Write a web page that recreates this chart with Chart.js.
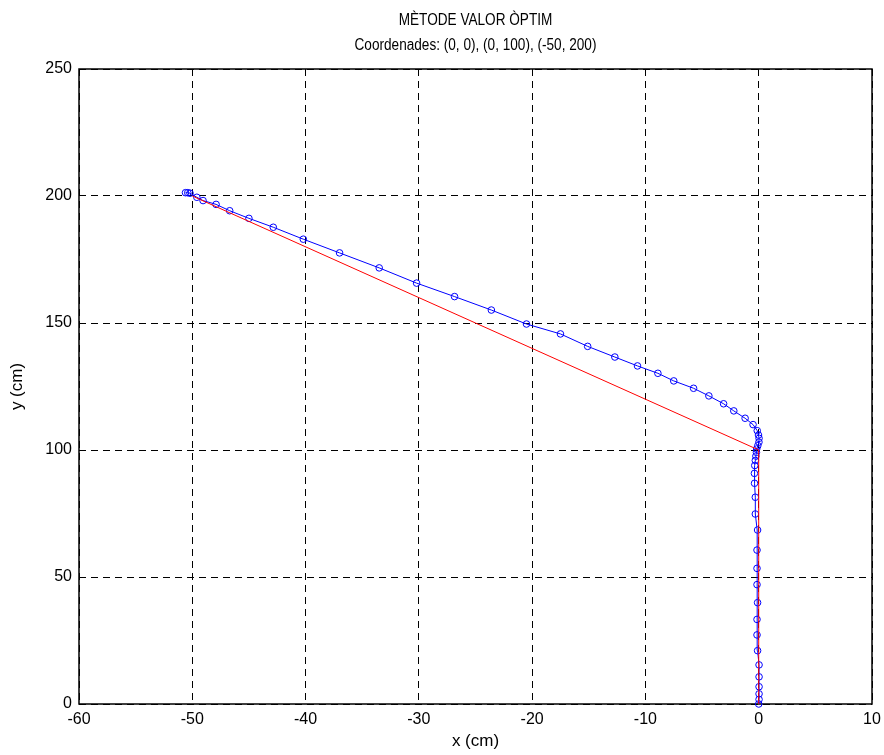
<!DOCTYPE html>
<html>
<head>
<meta charset="utf-8">
<title>Mètode valor òptim</title>
<script src="https://cdn.jsdelivr.net/npm/chart.js@4.4.1/dist/chart.umd.min.js"></script>
<style>
  html, body { margin: 0; padding: 0; background: #fff; }
  canvas { display: block; }
</style>
</head>
<body>
<canvas id="trajChart" width="884" height="755"></canvas>
<script>
// --- DADES ---
const titleLines = ['MÈTODE VALOR ÒPTIM', 'Coordenades: (0, 0), (0, 100), (-50, 200)'];
const xLabel = 'x (cm)';
const yLabel = 'y (cm)';

// trajectòria de referència (punts de pas)
const refX = [0, 0, -50];
const refY = [0, 100, 200];

// trajectòria obtinguda (mostres)
const pathX = [0, 0.03, 0.03, 0.03, 0.03, 0.03, -0.1, -0.15, -0.15, -0.1, -0.15, -0.15, -0.15, -0.1,
  -0.3, -0.3, -0.37, -0.38, -0.35, -0.3, -0.25, -0.2, -0.18, -0.08, 0.02, 0.03, -0.02, -0.13,
  -0.5, -1.2, -2.2, -3.1, -4.4, -5.75, -7.5, -8.9, -10.7, -12.7, -15.1, -17.5, -20.5, -23.6,
  -26.85, -30.2, -33.5, -37.0, -40.2, -42.85, -45.0, -46.7, -47.9, -49.05, -49.6, -50.2, -50.4, -50.6];
const pathY = [0, 1.8, 4.0, 6.8, 10.7, 15.4, 21.0, 27.2, 33.3, 39.9, 47.0, 53.4, 60.6, 68.5,
  74.8, 81.4, 86.9, 90.8, 93.9, 95.9, 97.6, 99.1, 100.4, 101.7, 103.1, 104.6, 105.9, 107.6,
  110.0, 112.5, 115.4, 118.2, 121.3, 124.3, 127.2, 130.2, 133.1, 136.6, 140.8, 145.7, 149.6, 155.1,
  160.4, 165.7, 171.7, 177.6, 183.0, 187.7, 191.2, 194.2, 196.7, 198.2, 199.5, 201.1, 201.3, 201.3];

const xTicks = [-60, -50, -40, -30, -20, -10, 0, 10];
const yTicks = [0, 50, 100, 150, 200, 250];

const toPoints = (xs, ys) => xs.map((x, i) => ({ x: x, y: ys[i] }));

const FONT = '"Liberation Sans", Arial, sans-serif';

// marc de l'eix + títols
const framePlugin = {
    id: 'frame',
    beforeDatasetsDraw(chart) {
        const { ctx, chartArea: a } = chart;
        ctx.save();
        ctx.strokeStyle = '#000';
        ctx.lineWidth = 1.5;
        ctx.strokeRect(a.left, a.top, a.right - a.left, a.bottom - a.top);
        ctx.restore();
    },
    afterDraw(chart) {
        const { ctx, chartArea: a } = chart;
        const cx = (a.left + a.right) / 2;
        ctx.save();
        ctx.fillStyle = '#000';
        ctx.font = '16px ' + FONT;
        ctx.textAlign = 'center';
        ctx.textBaseline = 'middle';
        // lletra una mica estreta
        ctx.translate(cx, 0);
        ctx.scale(0.85, 1);
        ctx.fillText(titleLines[0], 0, 21);
        ctx.fillText(titleLines[1], 0, 46);
        ctx.restore();
    }
};

document.addEventListener('DOMContentLoaded', () => {
    const ctx = document.getElementById('trajChart').getContext('2d');
    new Chart(ctx, {
        type: 'scatter',
        data: {
            datasets: [
                {
                    label: 'referència',
                    data: toPoints(refX, refY),
                    showLine: true,
                    borderColor: '#ff0000',
                    borderWidth: 1,
                    pointRadius: 0,
                    tension: 0,
                    clip: false,
                    order: 0
                },
                {
                    label: 'trajectòria',
                    data: toPoints(pathX, pathY),
                    showLine: true,
                    borderColor: '#0000ff',
                    borderWidth: 1,
                    backgroundColor: 'rgba(0,0,0,0)',
                    pointRadius: 3.3,
                    pointBorderWidth: 1,
                    pointBorderColor: '#0000ff',
                    pointBackgroundColor: 'rgba(0,0,0,0)',
                    tension: 0,
                    clip: false,
                    order: 1
                }
            ]
        },
        options: {
            responsive: false,
            devicePixelRatio: 1,
            animation: false,
            layout: { padding: { top: 69, right: 12, left: 0, bottom: 0 } },
            plugins: { legend: { display: false }, tooltip: { enabled: false } },
            scales: {
                x: {
                    type: 'linear',
                    min: -60, max: 10,
                    afterBuildTicks: (s) => { s.ticks = xTicks.map(v => ({ value: v })); },
                    afterFit: (s) => { s.height = 51; s.paddingLeft = 0; s.paddingRight = 0; },
                    grid: { color: '#000', lineWidth: 1, drawTicks: false },
                    border: { display: false, dash: [7, 5] },
                    ticks: { color: '#000', padding: 6, maxRotation: 0, font: { family: FONT, size: 16 } },
                    title: { display: true, text: xLabel, color: '#000', padding: { top: 0, bottom: 3 }, font: { family: FONT, size: 17 } }
                },
                y: {
                    type: 'linear',
                    min: 0, max: 250,
                    afterBuildTicks: (s) => { s.ticks = yTicks.map(v => ({ value: v })); },
                    afterFit: (s) => { s.width = 79; s.paddingTop = 0; s.paddingBottom = 0; },
                    grid: { color: '#000', lineWidth: 1, drawTicks: false },
                    border: { display: false, dash: [7, 5] },
                    ticks: { color: '#000', padding: 7, font: { family: FONT, size: 16 } },
                    title: { display: true, text: yLabel, color: '#000', padding: { top: 7, bottom: 0 }, font: { family: FONT, size: 17 } }
                }
            }
        },
        plugins: [framePlugin]
    });
});
</script>
</body>
</html>
